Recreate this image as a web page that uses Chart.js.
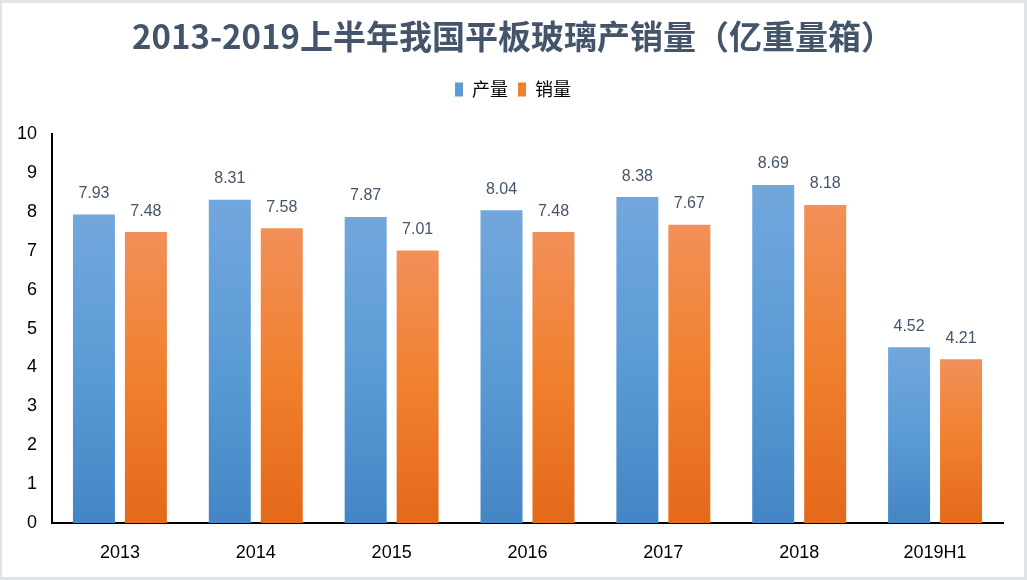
<!DOCTYPE html>
<html><head><meta charset="utf-8">
<script src="https://cdn.jsdelivr.net/npm/chart.js@4/dist/chart.umd.min.js"></script>
<style>
html,body{margin:0;padding:0;background:#fff;overflow:hidden;}
#wrap{width:1027px;height:580px;box-sizing:border-box;border:3px solid #dfe3e8;border-left-width:2px;}
canvas{display:block;}
</style></head><body><div id="wrap"><canvas id="c" width="1022" height="574"></canvas></div>
<script>
const titleText = '2013-2019上半年我国平板玻璃产销量（亿重量箱）';
const categories = ['2013','2014','2015','2016','2017','2018','2019H1'];
const seriesNames = ['产量','销量'];
const production = [7.93, 8.31, 7.87, 8.04, 8.38, 8.69, 4.52];
const sales = [7.48, 7.58, 7.01, 7.48, 7.67, 8.18, 4.21];
const yTicks = [0,1,2,3,4,5,6,7,8,9,10];

const blueStops = ['#72A7DD','#5B9BD5','#4485C5'];
const orangeStops = ['#F29058','#F0802E','#E4691A'];

function gradientFill(stops){
  return function(ctx){
    const chart = ctx.chart;
    const area = chart.chartArea;
    if(!area || ctx.type !== 'data' || !chart.scales.y) return stops[1];
    const v = ctx.raw;
    const top = chart.scales.y.getPixelForValue(v);
    const bottom = chart.scales.y.getPixelForValue(0);
    if(!isFinite(top) || !isFinite(bottom) || top === bottom) return stops[1];
    const g = chart.ctx.createLinearGradient(0, top, 0, bottom);
    g.addColorStop(0, stops[0]);
    g.addColorStop(0.5, stops[1]);
    g.addColorStop(1, stops[2]);
    return g;
  };
}

const valueLabels = {
  id: 'valueLabels',
  afterDatasetsDraw(chart){
    const c = chart.ctx;
    c.save();
    c.font = '16px "Liberation Sans", Arial, sans-serif';
    c.fillStyle = '#44546A';
    c.textAlign = 'center';
    c.textBaseline = 'middle';
    chart.data.datasets.forEach((ds, di) => {
      const meta = chart.getDatasetMeta(di);
      meta.data.forEach((bar, i) => {
        c.fillText(ds.data[i].toFixed(2), bar.x, bar.y - 21);
      });
    });
    c.restore();
  }
};

new Chart(document.getElementById('c'), {
  type: 'bar',
  data: {
    labels: categories,
    datasets: [
      { label: seriesNames[0], data: production, backgroundColor: gradientFill(blueStops), borderWidth: 0 },
      { label: seriesNames[1], data: sales, backgroundColor: gradientFill(orangeStops), borderWidth: 0 }
    ]
  },
  options: {
    responsive: false,
    devicePixelRatio: 1,
    animation: false,
    layout: { padding: 0 },
    datasets: { bar: { categoryPercentage: 0.765, barPercentage: 0.808 } },
    plugins: {
      title: {
        display: true,
        text: titleText,
        color: '#44546A',
        font: { size: 33, weight: 'bold', family: '"Noto Sans CJK SC", "Liberation Sans", sans-serif', lineHeight: 1.2 },
        padding: { top: 14, bottom: 14 }
      },
      legend: {
        display: true,
        position: 'top',
        labels: {
          boxWidth: 8,
          boxHeight: 14,
          padding: 10,
          color: '#595959',
          font: { size: 18, family: '"Noto Sans CJK SC", sans-serif' },
          generateLabels(chart){
            return chart.data.datasets.map((ds, i) => ({
              text: ds.label,
              fillStyle: i === 0 ? blueStops[1] : orangeStops[1],
              strokeStyle: 'rgba(0,0,0,0)',
              lineWidth: 0,
              hidden: false,
              datasetIndex: i
            }));
          }
        }
      },
      tooltip: { enabled: false }
    },
    scales: {
      x: {
        grid: { display: false, drawTicks: false },
        border: { display: true, color: '#000', width: 2 },
        ticks: { color: '#000', padding: 19, font: { size: 18, family: '"Liberation Sans", Arial, sans-serif' } },
        afterFit(s){ s.height = 54; }
      },
      xTopSpacer: {
        type: 'category',
        position: 'top',
        grid: { display: false, drawTicks: false },
        border: { display: false },
        ticks: { display: false },
        afterFit(s){ s.height = 25.5; }
      },
      y: {
        min: 0,
        max: 10,
        grid: { display: false, drawTicks: false },
        border: { display: true, color: '#000', width: 2 },
        ticks: { color: '#000', padding: 15, font: { size: 18, family: '"Liberation Sans", Arial, sans-serif' } },
        afterBuildTicks(s){ s.ticks = yTicks.map(v => ({ value: v })); },
        afterFit(s){ s.width = 50; }
      },
      yRightSpacer: {
        type: 'linear',
        position: 'right',
        min: 0,
        max: 10,
        grid: { display: false, drawTicks: false },
        border: { display: false },
        ticks: { display: false },
        afterFit(s){ s.width = 21; }
      }
    }
  },
  plugins: [valueLabels]
});
</script>
</body></html>
